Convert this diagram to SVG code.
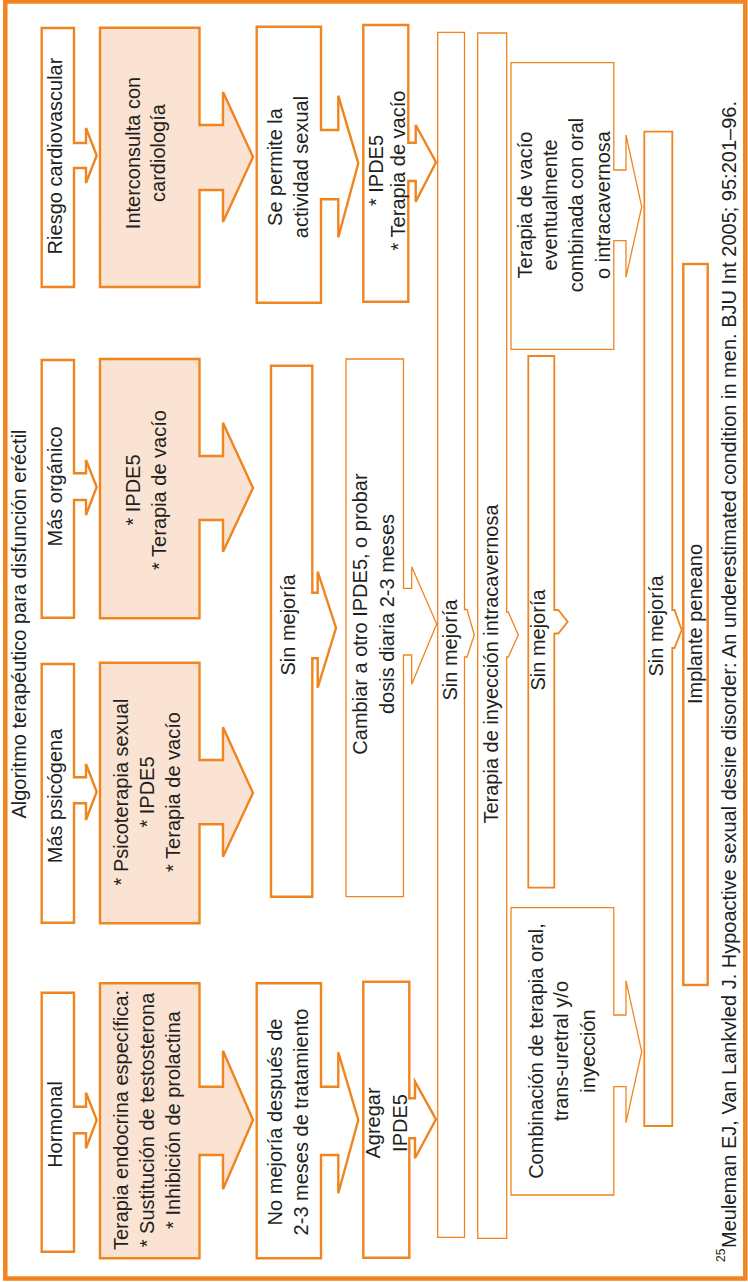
<svg xmlns="http://www.w3.org/2000/svg" width="748" height="1282" viewBox="0 0 748 1282">
<style>
.frame{fill:none;stroke:#F0851F;stroke-width:4.5}
.n{stroke:#F0851F;stroke-linejoin:miter;fill:#fff}
.thick{stroke-width:2.4}
.med{stroke-width:1.8}
.thin{stroke-width:1.3}
.pink{fill:#FAE3D2}
.t{font-family:"Liberation Sans",Arial,sans-serif;font-size:20px;fill:#231F20;text-anchor:middle}
.fn{font-family:"Liberation Sans",Arial,sans-serif;font-size:20px;fill:#231F20}
</style>
<rect class="frame" x="5.3" y="1.5" width="740" height="1277"/>
<text class="t" transform="translate(26,624) rotate(-90)">Algoritmo terapéutico para disfunción eréctil</text>

<g id="connectors"></g>

<g id="riesgo"><polygon class="n thick" points="41.7,28 74,28 74,143 86,143 86,128 96.7,155.5 86,183 86,168 74,168 74,287 41.7,287"/>
<text class="t" transform="translate(62,156) rotate(-90)">Riesgo cardiovascular</text></g>
<g id="organico"><polygon class="n thick" points="41.7,360 74,360 74,473.3 86,473.3 86,460 96.7,487 86,515 86,500 74,500 74,617.7 41.7,617.7"/>
<text class="t" transform="translate(62,486.5) rotate(-90)">Más orgánico</text></g>
<g id="psicogena"><polygon class="n thick" points="41.7,664 74,664 74,777.3 86,777.3 86,764 96.7,791.7 86,820 86,803.3 74,803.3 74,922.7 41.7,922.7"/>
<text class="t" transform="translate(62,796) rotate(-90)">Más psicógena</text></g>
<g id="hormonal"><polygon class="n thick" points="41.7,992.7 74,992.7 74,1106.7 86,1106.7 86,1092.7 96.7,1120 86,1148.3 86,1133.3 74,1133.3 74,1251.7 41.7,1251.7"/>
<text class="t" transform="translate(62,1124.5) rotate(-90)">Hormonal</text></g>

<g id="interconsulta"><polygon class="n thick pink" points="100,27.7 199.5,27.7 199.5,125 223,125 223,92 253,157 223,222 223,190 199.5,190 199.5,287 100,287"/>
<text class="t" transform="translate(139.5,153) rotate(-90)"><tspan x="0" y="0">Interconsulta con</tspan><tspan x="0" y="25">cardiología</tspan></text></g>
<g id="ipde5-organico"><polygon class="n thick pink" points="100,359 199.5,359 199.5,456 223,456 223,422.7 253,488 223,551.7 223,520 199.5,520 199.5,618.3 100,618.3"/>
<text class="t" transform="translate(140,490) rotate(-90)"><tspan x="0" y="0">* IPDE5</tspan><tspan x="0" y="25.5">* Terapia de vacío</tspan></text></g>
<g id="psicoterapia"><polygon class="n thick pink" points="100,662.7 199.5,662.7 199.5,760 223,760 223,727.3 253,793 223,856.7 223,824.3 199.5,824.3 199.5,923.3 100,923.3"/>
<text class="t" transform="translate(128.3,792) rotate(-90)"><tspan x="0" y="0">* Psicoterapia sexual</tspan><tspan x="0" y="25.8">* IPDE5</tspan><tspan x="0" y="51.7">* Terapia de vacío</tspan></text></g>
<g id="endocrina"><polygon class="n thick pink" points="100,983.3 199.5,983.3 199.5,1086.7 223,1086.7 223,1050.7 253,1120 223,1189.3 223,1155 199.5,1155 199.5,1258.3 100,1258.3"/>
<text class="t" transform="translate(128,1120) rotate(-90)"><tspan x="0" y="0">Terapia endocrina específica:</tspan><tspan x="0" y="26">* Sustitución de testosterona</tspan><tspan x="0" y="52">* Inhibición de prolactina</tspan></text></g>

<g id="se-permite"><polygon class="n thick" points="256.7,26.7 321,26.7 321,130 338.3,130 338.3,95.7 358.3,163.3 338.3,237.3 338.3,199.3 321,199.3 321,302.7 256.7,302.7"/>
<text class="t" transform="translate(282,167) rotate(-90)"><tspan x="0" y="0">Se permite la</tspan><tspan x="0" y="26.3">actividad sexual</tspan></text></g>
<g id="sin-mejoria-1"><polygon class="n thick" points="271,365.7 312.3,365.7 312.3,592.7 317.7,592.7 317.7,571.7 336,628 317.7,687.7 317.7,658.3 312.3,658.3 312.3,896.7 271,896.7"/>
<text class="t" transform="translate(295,625) rotate(-90)">Sin mejoría</text></g>
<g id="no-mejoria"><polygon class="n thick" points="256.7,983.3 321,983.3 321,1086.7 338.3,1086.7 338.3,1052.3 358.3,1120 338.3,1193.3 338.3,1155 321,1155 321,1258.3 256.7,1258.3"/>
<text class="t" transform="translate(281.7,1122) rotate(-90)"><tspan x="0" y="0">No mejoría después de</tspan><tspan x="0" y="26.6">2-3 meses de tratamiento</tspan></text></g>

<g id="ipde5-vacio"><polygon class="n thick" points="363.3,25 408.3,25 408.3,142.7 415.7,142.7 415.7,125 436,162.3 415.7,201.7 415.7,181 408.3,181 408.3,301.7 363.3,301.7"/>
<text class="t" transform="translate(383.3,170.5) rotate(-90)"><tspan x="0" y="0">* IPDE5</tspan><tspan x="0" y="21.7">* Terapia de vacío</tspan></text></g>
<g id="cambiar"><polygon class="n thin" points="346,359 403.5,359 403.5,588.3 411.7,588.3 411.7,566.7 436.7,624 411.7,684.3 411.7,655 403.5,655 403.5,896.7 346,896.7"/>
<text class="t" transform="translate(367.3,614) rotate(-90)"><tspan x="0" y="0">Cambiar a otro IPDE5, o probar</tspan><tspan x="0" y="26.7">dosis diaria 2-3 meses</tspan></text></g>
<g id="agregar"><polygon class="n thick" points="363.3,981.7 409.3,981.7 409.3,1098.3 415,1098.3 415,1081.7 436,1119.3 415,1158.3 415,1138.3 409.3,1138.3 409.3,1257.7 363.3,1257.7"/>
<text class="t" transform="translate(380,1123) rotate(-90)"><tspan x="0" y="0">Agregar</tspan><tspan x="0" y="26.7">IPDE5</tspan></text></g>

<g id="sin-mejoria-2"><polygon class="n thin" points="437.7,32.3 464.5,32.3 464.5,609.5 467,609.5 474.3,635 467,657 464.5,657 464.5,1237.3 437.7,1237.3"/>
<text class="t" transform="translate(457,650) rotate(-90)">Sin mejoría</text></g>
<g id="inyeccion"><polygon class="n thin" points="477.7,33 506.7,33 506.7,612 508.3,612 518.3,635 508.3,657 506.7,657 506.7,1238.3 477.7,1238.3"/>
<text class="t" transform="translate(497.5,664) rotate(-90)">Terapia de inyección intracavernosa</text></g>

<g id="vacio-combinada"><polygon class="n thin" points="511,62.7 613.8,62.7 613.8,170 626,170 626,135 641.7,206.7 626,277.3 626,240.7 613.8,240.7 613.8,349.3 511,349.3"/>
<text class="t" transform="translate(531.7,205) rotate(-90)"><tspan x="0" y="0">Terapia de vacío</tspan><tspan x="0" y="25">eventualmente</tspan><tspan x="0" y="51.6">combinada con oral</tspan><tspan x="0" y="78.3">o intracavernosa</tspan></text></g>
<g id="sin-mejoria-3"><polygon class="n med" points="528.3,356 554.3,356 554.3,610 558.3,610 567.7,621.7 558.3,633.5 554.3,633.5 554.3,887.7 528.3,887.7"/>
<text class="t" transform="translate(545,640) rotate(-90)">Sin mejoría</text></g>
<g id="combinacion"><polygon class="n thin" points="511,907.7 613.8,907.7 613.8,1015 626,1015 626,980.7 641.7,1051.7 626,1122.7 626,1086.7 613.8,1086.7 613.8,1195 511,1195"/>
<text class="t" transform="translate(543.3,1051) rotate(-90)"><tspan x="0" y="0">Combinación de terapia oral,</tspan><tspan x="0" y="25">trans-uretral y/o</tspan><tspan x="0" y="51.7">inyección</tspan></text></g>

<g id="sin-mejoria-4"><polygon class="n med" points="644.3,131.7 672.3,131.7 672.3,610 674.5,610 681.7,630 674.5,648 672.3,648 672.3,1126 644.3,1126"/>
<text class="t" transform="translate(663,626) rotate(-90)">Sin mejoría</text></g>
<g id="implante"><rect class="n thick" x="683.3" y="264" width="24.4" height="721"/>
<text class="t" transform="translate(702.3,624) rotate(-90)">Implante peneano</text></g>

<text class="fn" transform="translate(725,1262) rotate(-90)" font-size="12" style="font-size:12px">25</text>
<text class="fn" transform="translate(736,1248) rotate(-90)">Meuleman EJ, Van Lankvled J. Hypoactive sexual desire disorder: An underestimated condition in men. BJU Int 2005; 95:201–96.</text>
</svg>
